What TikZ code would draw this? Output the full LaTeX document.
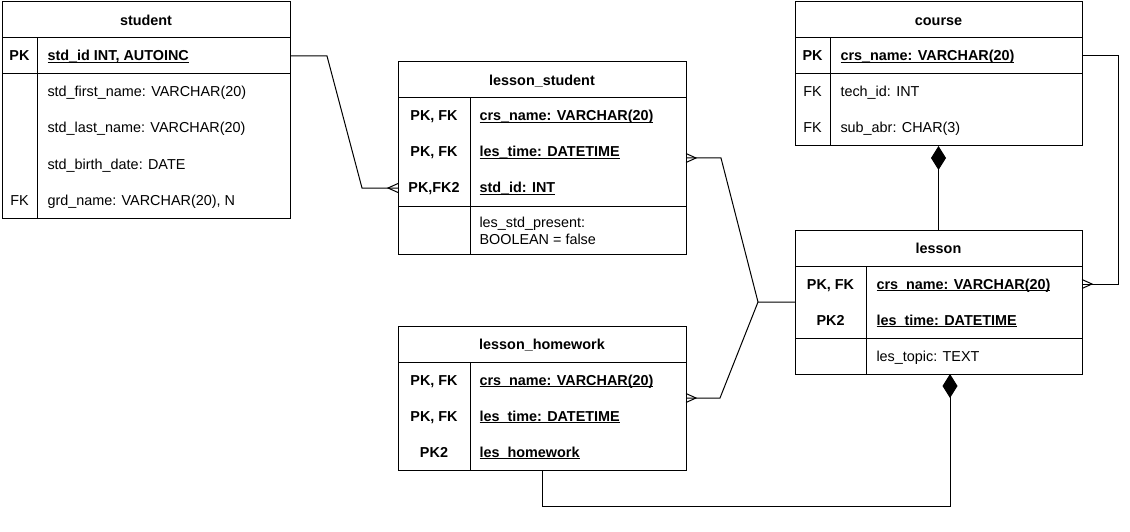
\documentclass[tikz,border=0pt]{standalone}
\usepackage{fontspec}
\setmainfont{Liberation Sans}
\usetikzlibrary{arrows.meta,calc}
\newcommand\fs{\fontsize{14.4}{17.3}\selectfont}
\newcommand\myul[1]{\setbox0\hbox{#1}\rlap{\rule[-2pt]{\wd0}{0.9pt}}\box0}
\begin{document}
\begin{tikzpicture}[x=1pt,y=-1pt,line width=1pt,
  tbl/.style={draw,anchor=north west,inner sep=0pt,outer sep=0pt},
  rowbox/.style={anchor=north west,inner sep=0pt,outer sep=0pt},
  hdr/.style={font=\fs\bfseries,inner sep=0pt,anchor=base},
  keyt/.style={font=\fs,inner sep=0pt,anchor=base},
  bkeyt/.style={font=\fs\bfseries,inner sep=0pt,anchor=base},
  fld/.style={font=\fs,inner sep=0pt,anchor=base west},
  bfld/.style={font=\fs\bfseries,inner sep=0pt,anchor=base west},
  crow/.style={line width=1pt},
  diam/.style={line width=1pt}]
\useasboundingbox (0,0) rectangle (1130,532);

% ---------- student ----------
\node[tbl,minimum width=288pt,minimum height=216pt] (student) at (2,2) {};
\node[rowbox,minimum width=288pt,minimum height=36pt] (stdPK) at (2,38) {};
\draw (2,38) -- (290,38);
\draw (2,74) -- (290,74);
\draw (37,38) -- (37,218);
\node[hdr] (studentT) at (146,25.5) {student};
\node[bkeyt] (s1k) at (19.5,61) {PK};
\node[bfld] (s1) at (47,61) {\myul{std\_id INT, AUTOINC}};
\node[fld] (s2) at (47,97) {std\_first\_name: VARCHAR(20)};
\node[fld] (s3) at (47,133) {std\_last\_name: VARCHAR(20)};
\node[fld] (s4) at (47,169) {std\_birth\_date: DATE};
\node[keyt] (s5k) at (19.5,205) {FK};
\node[fld] (s5) at (47,205) {grd\_name: VARCHAR(20), N};

% ---------- lesson_student ----------
\node[tbl,minimum width=288pt,minimum height=192pt] (lstu) at (398,62) {};
\node[rowbox,minimum width=288pt,minimum height=36pt] (lsSID) at (398,170) {};
\draw (398,98) -- (686,98);
\draw (398,206) -- (686,206);
\draw (470,98) -- (470,254);
\node[hdr] (lstuT) at (542,85.5) {lesson\_student};
\node[bkeyt] (l1k) at (434,121) {PK, FK};
\node[bfld] (l1) at (479,121) {\myul{crs\_name: VARCHAR(20)}};
\node[bkeyt] (l2k) at (434,157) {PK, FK};
\node[bfld] (l2) at (479,157) {\myul{les\_time: DATETIME}};
\node[bkeyt] (l3k) at (434,193) {PK,FK2};
\node[bfld] (l3) at (479,193) {\myul{std\_id: INT}};
\node[fld] (l4a) at (479,227) {les\_std\_present:};
\node[fld] (l4b) at (479,244.5) {BOOLEAN = false};

% ---------- course ----------
\node[tbl,minimum width=287pt,minimum height=144pt] (course) at (795,2) {};
\node[rowbox,minimum width=287pt,minimum height=36pt] (courPK) at (795,38) {};
\draw (795,38) -- (1082,38);
\draw (795,74) -- (1082,74);
\draw (830,38) -- (830,146);
\node[hdr] (courseT) at (938.5,25.5) {course};
\node[bkeyt] (c1k) at (812.5,61) {PK};
\node[bfld] (c1) at (840,61) {\myul{crs\_name: VARCHAR(20)}};
\node[keyt] (c2k) at (812.5,97) {FK};
\node[fld] (c2) at (840,97) {tech\_id: INT};
\node[keyt] (c3k) at (812.5,133) {FK};
\node[fld] (c3) at (840,133) {sub\_abr: CHAR(3)};

% ---------- lesson ----------
\node[tbl,minimum width=287pt,minimum height=144pt] (lesson) at (795,230) {};
\node[rowbox,minimum width=287pt,minimum height=36pt] (lesCRS) at (795,266) {};
\draw (795,266) -- (1082,266);
\draw (795,338) -- (1082,338);
\draw (866,266) -- (866,374);
\node[hdr] (lessonT) at (938.5,253.5) {lesson};
\node[bkeyt] (e1k) at (830.5,289) {PK, FK};
\node[bfld] (e1) at (876,289) {\myul{crs\_name: VARCHAR(20)}};
\node[bkeyt] (e2k) at (830.5,325) {PK2};
\node[bfld] (e2) at (876,325) {\myul{les\_time: DATETIME}};
\node[fld] (e3) at (876,361) {les\_topic: TEXT};

% ---------- lesson_homework ----------
\node[tbl,minimum width=288pt,minimum height=144pt] (lhw) at (398,326) {};
\draw (398,362) -- (686,362);
\draw (470,362) -- (470,470);
\node[hdr] (lhwT) at (542,349.5) {lesson\_homework};
\node[bkeyt] (h1k) at (434,385) {PK, FK};
\node[bfld] (h1) at (479,385) {\myul{crs\_name: VARCHAR(20)}};
\node[bkeyt] (h2k) at (434,421) {PK, FK};
\node[bfld] (h2) at (479,421) {\myul{les\_time: DATETIME}};
\node[bkeyt] (h3k) at (434,457) {PK2};
\node[bfld] (h3) at (479,457) {\myul{les\_homework}};

% ---------- connectors ----------
% student -> lesson_student
\draw (stdPK.east) -- ++(37,0) -- ($(lsSID.west)+(-36,0)$) -- (lsSID.west);
\draw[crow] (lsSID.west) ++(0,-4.5) -- ++(-10,4.5) -- ++(10,4.5);

% lesson_student / lesson_homework -> lesson
\coordinate (j) at ($(lesson.west)+(-37,0)$);
\draw (lstu.east) -- ++(35,0) -- (j) -- (lesson.west);
\draw (lhw.east) -- ++(34,0) -- (j);
\draw[crow] (lstu.east) ++(0,-4.5) -- ++(10,4.5) -- ++(-10,4.5);
\draw[crow] (lhw.east) ++(0,-4.5) -- ++(10,4.5) -- ++(-10,4.5);

% course -> lesson
\draw (courPK.east) -- ++(36,0) |- (lesCRS.east);
\draw[crow] (lesCRS.east) ++(0,-4.5) -- ++(10,4.5) -- ++(-10,4.5);

% composition course <- lesson
\draw[diam,-{Diamond[length=24pt,width=15pt]}] (lesson.north) -- (course.south);

% composition lesson <- lesson_homework
\draw[diam,{Diamond[length=24pt,width=15pt]}-] ($(lesson.south)+(11.5,0)$) -- ++(0,132) -| (lhw.south);
\end{tikzpicture}
\end{document}
